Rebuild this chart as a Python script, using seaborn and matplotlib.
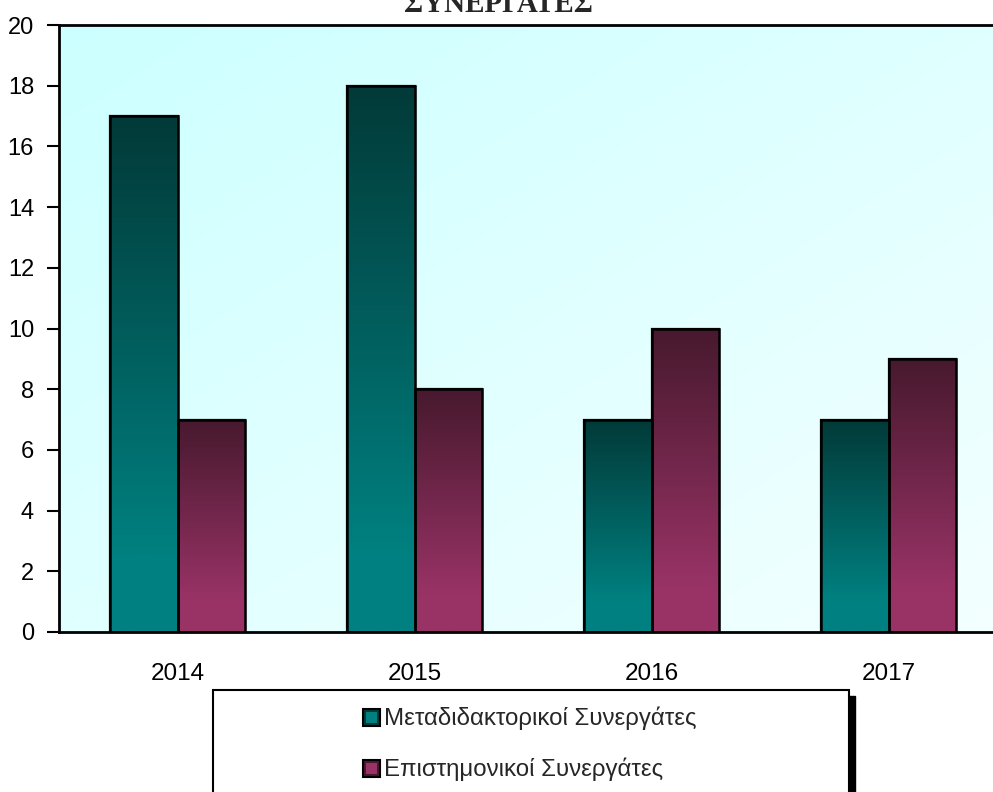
import numpy as np
import pandas as pd
import matplotlib
matplotlib.use("Agg")
import matplotlib.pyplot as plt
import seaborn as sns
from matplotlib.colors import LinearSegmentedColormap
from matplotlib.patches import Rectangle

# ---- data ----
years = ["2014", "2015", "2016", "2017"]
series_names = ["Μεταδιδακτορικοί Συνεργάτες", "Επιστημονικοί Συνεργάτες"]
postdoc = [17, 18, 7, 7]
scientific = [7, 8, 10, 9]
legend_labels = ["Μεταδιδακτορικοί Συνεργάτες", "Επιστημονικοί Συνεργάτες"]
title_text = "ΣΥΝΕΡΓΑΤΕΣ"

df = pd.DataFrame({
    "year": years * 2,
    "value": postdoc + scientific,
    "series": [series_names[0]] * 4 + [series_names[1]] * 4,
})

base_colors = {series_names[0]: "#008080", series_names[1]: "#993366"}
top_colors = {series_names[0]: "#023a38", series_names[1]: "#47192e"}

sns.set_theme(style="white")
plt.rcParams["font.family"] = ["Liberation Sans", "DejaVu Sans"]

fig = plt.figure(figsize=(9.93, 7.92), dpi=100)
ax = fig.add_axes([59 / 993, (792 - 632) / 792, 948 / 993, 607 / 792])

sns.barplot(data=df, x="year", y="value", hue="series", order=years,
            hue_order=series_names, palette=base_colors, width=0.57,
            edgecolor="black", linewidth=1.6, ax=ax, legend=False, saturation=1)

ax.set_ylim(0, 20)
ax.set_xlim(-0.5, 3.5)
ax.set_yticks(range(0, 21, 2))
ax.set_xlabel("")
ax.set_ylabel("")
ax.tick_params(axis="y", which="both", left=True, length=9, width=1.5, color="black",
               labelsize=17, pad=9, labelcolor="black")
ax.tick_params(axis="x", bottom=False, labelsize=17.5, pad=16, labelcolor="black")
for s in ["left", "bottom", "top"]:
    ax.spines[s].set_visible(True)
    ax.spines[s].set_color("black")
    ax.spines[s].set_linewidth(2)
ax.spines["right"].set_visible(False)

# background gradient (diagonal: cyan top-left -> whiter bottom-right)
bg_cmap = LinearSegmentedColormap.from_list("bg", ["#ccffff", "#f4ffff"])
gx, gy = np.meshgrid(np.linspace(0, 1, 200), np.linspace(0, 1, 200))
grad = (gx + gy) / 2
ax.imshow(grad, cmap=bg_cmap, extent=[-0.5, 3.5, 0, 20],
          aspect="auto", zorder=0, origin="upper")

# gradient fill of bars (light at bottom, dark at top)
order_series = [series_names[0]] * 4 + [series_names[1]] * 4
for patch, sname in zip(ax.patches, order_series):
    x0, y0 = patch.get_x(), patch.get_y()
    w, h = patch.get_width(), patch.get_height()
    cmap = LinearSegmentedColormap.from_list(
        "g", [(0.0, base_colors[sname]), (0.15, base_colors[sname]), (1.0, top_colors[sname])])
    g = np.linspace(0, 1, 256).reshape(-1, 1)
    im = ax.imshow(g, cmap=cmap, extent=[x0, x0 + w, y0, y0 + h], aspect="auto",
                   zorder=patch.get_zorder() + 0.1, origin="lower")
    im.set_clip_path(patch)
    outline = Rectangle((x0, y0), w, h, fill=False, edgecolor="black", linewidth=1.8,
                        zorder=patch.get_zorder() + 0.2)
    ax.add_patch(outline)
ax.set_ylim(0, 20)
ax.set_xlim(-0.5, 3.5)

# title (partially cut off at top, as in the reference)
fig.text(498 / 993, 1 - 12 / 792, title_text, ha="center", va="baseline",
         fontsize=21, fontweight="bold", family=["Liberation Serif", "DejaVu Serif"])

# legend box with shadow
lx0, ly0, lx1 = 213 / 993, 0.0 - 0.02, 849 / 993
ltop = 1 - 690 / 792
shadow = Rectangle((lx0 + 6 / 993, ly0 - 6 / 792), lx1 - lx0, ltop - ly0,
                   transform=fig.transFigure, facecolor="black", edgecolor="black", zorder=1)
box = Rectangle((lx0, ly0), lx1 - lx0, ltop - ly0, transform=fig.transFigure,
                facecolor="white", edgecolor="black", linewidth=1.5, zorder=2)
fig.add_artist(shadow)
fig.add_artist(box)

entry_y = [1 - 718 / 792, 1 - 769 / 792]
for lab, sname, yy in zip(legend_labels, series_names, entry_y):
    sw = Rectangle((363 / 993, yy - 8 / 792), 17 / 993, 17 / 792, transform=fig.transFigure,
                   facecolor=top_colors[sname], edgecolor="black", linewidth=1.5, zorder=3)
    fig.add_artist(sw)
    inner = Rectangle((366 / 993, yy - 5 / 792), 11 / 993, 11 / 792, transform=fig.transFigure,
                      facecolor=base_colors[sname], edgecolor="none", zorder=3.5)
    fig.add_artist(inner)
    fig.text(384 / 993, yy, lab, ha="left", va="center", fontsize=17.3, zorder=4)

fig.savefig("out.png", dpi=100)
